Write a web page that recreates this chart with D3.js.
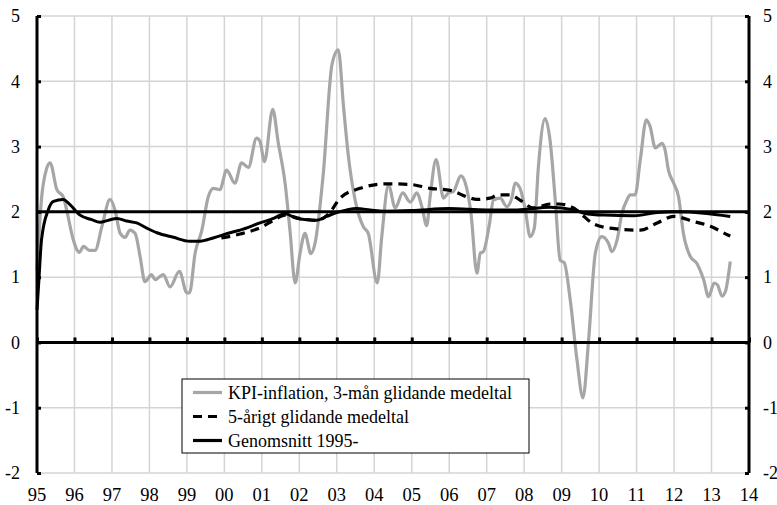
<!DOCTYPE html>
<html>
<head>
<meta charset="utf-8">
<script src="https://cdn.jsdelivr.net/npm/d3@7"></script>
<style>
  body { margin: 0; background: #fff; }
  svg { display: block; }
</style>
</head>
<body>
<script>
// KPI-inflation, 3-mån glidande medeltal  [år, procent]
const kpi = [
  [1995.0, 1.1], [1995.12, 2.2], [1995.25, 2.65], [1995.35, 2.75], [1995.53, 2.34],
  [1995.70, 2.23], [1995.79, 2.03], [1995.97, 1.57], [1996.13, 1.38], [1996.24, 1.47],
  [1996.40, 1.41], [1996.55, 1.41], [1996.73, 1.77], [1996.95, 2.19], [1997.08, 2.03],
  [1997.22, 1.67], [1997.35, 1.61], [1997.48, 1.72], [1997.62, 1.67], [1997.75, 1.32],
  [1997.88, 0.93], [1998.06, 1.04], [1998.15, 0.96], [1998.37, 1.04], [1998.55, 0.85],
  [1998.80, 1.09], [1999.0, 0.76], [1999.07, 0.76], [1999.22, 1.37], [1999.40, 1.72],
  [1999.57, 2.23], [1999.71, 2.36], [1999.88, 2.34], [2000.06, 2.64], [2000.28, 2.44],
  [2000.46, 2.75], [2000.64, 2.68], [2000.86, 3.13], [2000.95, 3.08], [2001.07, 2.77],
  [2001.29, 3.57], [2001.44, 3.05], [2001.62, 2.44], [2001.75, 1.72], [2001.89, 0.91],
  [2002.02, 1.37], [2002.15, 1.67], [2002.31, 1.36], [2002.42, 1.52], [2002.64, 2.59],
  [2002.87, 4.25], [2003.04, 4.48], [2003.18, 3.61], [2003.31, 2.85], [2003.49, 2.18],
  [2003.71, 1.77], [2003.84, 1.67], [2004.08, 0.91], [2004.20, 1.62], [2004.38, 2.41],
  [2004.56, 2.06], [2004.76, 2.29], [2004.96, 2.15], [2005.14, 2.29], [2005.27, 2.08],
  [2005.40, 1.79], [2005.49, 2.23], [2005.65, 2.80], [2005.85, 2.21], [2005.98, 2.29],
  [2006.11, 2.31], [2006.31, 2.55], [2006.43, 2.44], [2006.58, 1.98], [2006.74, 1.06],
  [2006.83, 1.37], [2006.91, 1.39], [2007.07, 1.80], [2007.18, 2.18], [2007.36, 2.21],
  [2007.54, 2.08], [2007.67, 2.21], [2007.76, 2.44], [2007.89, 2.36], [2008.03, 2.03],
  [2008.16, 1.62], [2008.27, 1.75], [2008.38, 2.69], [2008.56, 3.43], [2008.69, 3.10],
  [2008.83, 2.18], [2008.96, 1.26], [2009.07, 1.22], [2009.23, 0.65], [2009.41, -0.27],
  [2009.57, -0.85], [2009.72, 0.04], [2009.90, 1.37], [2010.07, 1.62], [2010.25, 1.52],
  [2010.34, 1.39], [2010.48, 1.57], [2010.61, 1.98], [2010.74, 2.18], [2010.83, 2.26],
  [2010.96, 2.26], [2011.10, 2.80], [2011.26, 3.41], [2011.36, 3.31], [2011.50, 2.98],
  [2011.68, 3.05], [2011.76, 2.95], [2011.85, 2.64], [2011.99, 2.44], [2012.12, 2.23],
  [2012.25, 1.67], [2012.43, 1.32], [2012.61, 1.21], [2012.79, 0.96], [2012.92, 0.70],
  [2013.07, 0.91], [2013.16, 0.88], [2013.28, 0.71], [2013.37, 0.78], [2013.50, 1.24]
];

// 5-årigt glidande medeltal
const ma5 = [
  [1999.92, 1.60], [2000.42, 1.66], [2001.0, 1.77], [2001.31, 1.87], [2001.62, 1.95],
  [2002.0, 1.90], [2002.47, 1.87], [2002.8, 1.98], [2003.09, 2.21], [2003.62, 2.36],
  [2004.33, 2.43], [2004.96, 2.42], [2005.49, 2.36], [2006.03, 2.33], [2006.47, 2.23],
  [2006.74, 2.19], [2007.09, 2.21], [2007.31, 2.26], [2007.63, 2.26], [2007.89, 2.18],
  [2008.25, 2.06], [2008.69, 2.12], [2008.92, 2.12], [2009.32, 2.06], [2009.5, 1.98],
  [2009.81, 1.83], [2010.3, 1.75], [2011.1, 1.72], [2011.55, 1.83], [2011.99, 1.93],
  [2012.53, 1.85], [2012.97, 1.78], [2013.42, 1.65], [2013.5, 1.63]
];

// Genomsnitt 1995-
const avg = [
  [1995.0, 0.5], [1995.05, 0.95], [1995.12, 1.57], [1995.3, 2.03], [1995.44, 2.16],
  [1995.7, 2.19], [1995.88, 2.11], [1996.15, 1.95], [1996.46, 1.88], [1996.68, 1.84],
  [1996.9, 1.87], [1997.13, 1.90], [1997.39, 1.86], [1997.66, 1.83], [1997.93, 1.75],
  [1998.2, 1.68], [1998.64, 1.61], [1999.08, 1.55], [1999.35, 1.55], [1999.7, 1.60],
  [2000.15, 1.68], [2000.42, 1.72], [2000.95, 1.83], [2001.31, 1.90], [2001.62, 1.97],
  [2001.93, 1.90], [2002.2, 1.88], [2002.47, 1.87], [2002.73, 1.93], [2003.0, 1.99],
  [2003.27, 2.03], [2003.53, 2.05], [2003.89, 2.03], [2004.25, 2.01], [2005.0, 2.02],
  [2006.0, 2.05], [2007.0, 2.03], [2007.81, 2.03], [2008.69, 2.07], [2009.33, 2.03],
  [2009.6, 1.98], [2010.13, 1.95], [2010.93, 1.94], [2011.55, 1.99], [2012.08, 2.0],
  [2012.8, 1.98], [2013.5, 1.93]
];

const target = 2;
const yTicks = [-2, -1, 0, 1, 2, 3, 4, 5];
const years = d3.range(1995, 2015);
const yearLabels = ["95","96","97","98","99","00","01","02","03","04","05","06","07","08","09","10","11","12","13","14"];
const legendLabels = ["KPI-inflation, 3-mån glidande medeltal", "5-årigt glidande medeltal", "Genomsnitt 1995-"];

const width = 777, height = 505;
const margin = {top: 16, right: 28, bottom: 32, left: 37};
const font = "'Liberation Serif', 'DejaVu Serif', serif";

const svg = d3.select("body").append("svg")
  .attr("width", width)
  .attr("height", height)
  .attr("font-family", font);

const x = d3.scaleLinear().domain([1995, 2014]).range([margin.left, width - margin.right]);
const y = d3.scaleLinear().domain([-2, 5]).range([height - margin.bottom, margin.top]);

const grey = "#a6a6a6";
const gridCol = "#d4d4d4";

// gridlines
svg.append("g").selectAll("line").data(yTicks).enter().append("line")
  .attr("x1", x(1995)).attr("x2", x(2014))
  .attr("y1", d => y(d)).attr("y2", d => y(d))
  .attr("stroke", gridCol).attr("stroke-width", 1.5);
svg.append("g").selectAll("line").data(years.slice(1, -1)).enter().append("line")
  .attr("x1", d => x(d)).attr("x2", d => x(d))
  .attr("y1", y(5)).attr("y2", y(-2))
  .attr("stroke", gridCol).attr("stroke-width", 1.5);

// lines
const line = d3.line().x(d => x(d[0])).y(d => y(d[1])).curve(d3.curveMonotoneX);

svg.append("path").datum(kpi).attr("d", line)
  .attr("fill", "none").attr("stroke", grey).attr("stroke-width", 3.2)
  .attr("stroke-linejoin", "round");

// target line at 2
svg.append("line")
  .attr("x1", x(1995)).attr("x2", x(2014))
  .attr("y1", y(target)).attr("y2", y(target))
  .attr("stroke", "#000").attr("stroke-width", 3);

svg.append("path").datum(ma5).attr("d", line)
  .attr("fill", "none").attr("stroke", "#000").attr("stroke-width", 3.2)
  .attr("stroke-dasharray", "9,6");

svg.append("path").datum(avg).attr("d", line)
  .attr("fill", "none").attr("stroke", "#000").attr("stroke-width", 3);

// zero line with year ticks
const xAxis = d3.axisTop(x).tickValues(years).tickSize(5).tickFormat("");
svg.append("g")
  .attr("transform", "translate(0," + y(0) + ")")
  .call(xAxis)
  .call(g => g.select(".domain").attr("stroke-width", 3).attr("d", "M" + x(1995) + ",0H" + x(2014)))
  .call(g => g.selectAll(".tick line").attr("stroke-width", 3));

// left and right axes
const leftAxis = d3.axisRight(y).tickValues(yTicks).tickSize(4).tickFormat("");
svg.append("g")
  .attr("transform", "translate(" + x(1995) + ",0)")
  .call(leftAxis)
  .call(g => g.select(".domain").attr("stroke-width", 3).attr("d", "M0," + y(5) + "V" + y(-2)))
  .call(g => g.selectAll(".tick line").attr("stroke-width", 3));
const rightAxis = d3.axisLeft(y).tickValues(yTicks).tickSize(4).tickFormat("");
svg.append("g")
  .attr("transform", "translate(" + x(2014) + ",0)")
  .call(rightAxis)
  .call(g => g.select(".domain").attr("stroke-width", 3).attr("d", "M0," + y(5) + "V" + y(-2)))
  .call(g => g.selectAll(".tick line").attr("stroke-width", 3));

// tick labels
svg.append("g").selectAll("text").data(yTicks).enter().append("text")
  .attr("x", 20).attr("y", d => y(d)).attr("dy", "0.35em")
  .attr("text-anchor", "end").attr("font-size", 18)
  .text(d => d);
svg.append("g").selectAll("text").data(yTicks).enter().append("text")
  .attr("x", 763).attr("y", d => y(d)).attr("dy", "0.35em")
  .attr("text-anchor", "start").attr("font-size", 18)
  .text(d => d);
svg.append("g").selectAll("text").data(years).enter().append("text")
  .attr("x", d => x(d)).attr("y", 501)
  .attr("text-anchor", "middle").attr("font-size", 18.5)
  .text((d, i) => yearLabels[i]);

// legend
const legend = svg.append("g").attr("transform", "translate(182,379)");
legend.append("rect")
  .attr("width", 347).attr("height", 74)
  .attr("fill", "#fff").attr("stroke", "#000").attr("stroke-width", 1);
const styles = [
  {stroke: grey, dash: null},
  {stroke: "#000", dash: "9,6"},
  {stroke: "#000", dash: null}
];
legendLabels.forEach((lab, i) => {
  const ly = 13.5 + i * 24;
  legend.append("line")
    .attr("x1", 11).attr("x2", 40).attr("y1", ly).attr("y2", ly)
    .attr("stroke", styles[i].stroke).attr("stroke-width", 3.2)
    .attr("stroke-dasharray", styles[i].dash);
  legend.append("text")
    .attr("x", 46).attr("y", ly).attr("dy", "0.35em")
    .attr("font-size", 18)
    .text(lab);
});
</script>
</body>
</html>
